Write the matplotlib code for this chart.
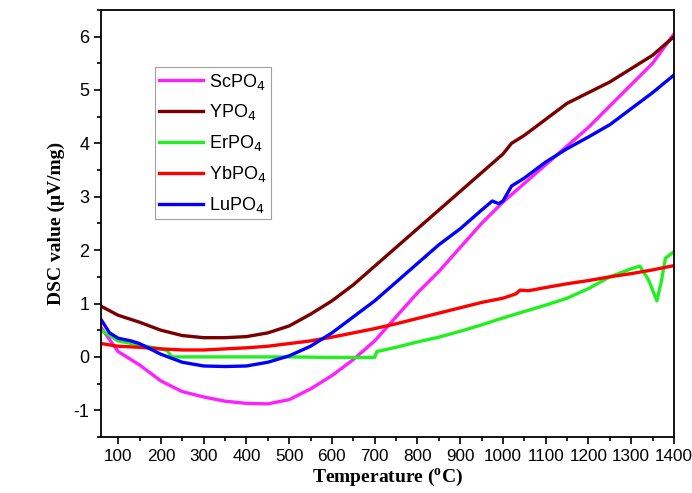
import numpy as np
import matplotlib
matplotlib.use('Agg')
from matplotlib import pyplot as plt
from matplotlib.ticker import MultipleLocator

plt.rcParams['axes.unicode_minus'] = False

# temperature grids and DSC values
t_sc = [60, 100, 150, 200, 250, 300, 350, 400, 450, 500, 550, 600, 650, 700, 750,
        800, 850, 900, 950, 1000, 1050, 1100, 1150, 1200, 1250, 1300, 1350, 1400]
sc = [0.55, 0.1, -0.15, -0.45, -0.65, -0.75, -0.83, -0.87, -0.88, -0.8, -0.6, -0.35,
      -0.05, 0.3, 0.75, 1.2, 1.6, 2.05, 2.5, 2.9, 3.25, 3.6, 3.95, 4.3, 4.7, 5.1, 5.5, 6.05]

t_y = [60, 100, 150, 200, 250, 300, 350, 400, 450, 500, 550, 600, 650, 700, 750, 800,
       850, 900, 950, 1000, 1020, 1050, 1100, 1150, 1200, 1250, 1300, 1350, 1400]
y = [0.95, 0.78, 0.65, 0.5, 0.4, 0.36, 0.36, 0.38, 0.45, 0.58, 0.8, 1.05, 1.35, 1.7,
     2.05, 2.4, 2.75, 3.1, 3.45, 3.8, 4.0, 4.15, 4.45, 4.75, 4.95, 5.15, 5.4, 5.65, 6.0]

t_er = [60, 100, 150, 200, 215, 225, 300, 400, 500, 600, 700, 705, 750, 800, 850, 900,
        950, 1000, 1050, 1100, 1150, 1200, 1250, 1300, 1320, 1340, 1360, 1370, 1380, 1400]
er = [0.5, 0.3, 0.22, 0.15, 0.12, 0.0, 0.0, 0.0, 0.0, -0.01, -0.01, 0.1, 0.18, 0.28, 0.37,
      0.48, 0.6, 0.73, 0.85, 0.97, 1.1, 1.28, 1.5, 1.65, 1.7, 1.45, 1.05, 1.4, 1.85, 1.97]

t_yb = [60, 100, 150, 200, 250, 300, 350, 400, 450, 500, 550, 600, 650, 700, 750, 800,
        850, 900, 950, 1000, 1030, 1040, 1060, 1100, 1150, 1200, 1250, 1300, 1350, 1400]
yb = [0.25, 0.2, 0.18, 0.15, 0.13, 0.13, 0.15, 0.17, 0.2, 0.25, 0.3, 0.37, 0.45, 0.53,
      0.62, 0.72, 0.82, 0.92, 1.02, 1.1, 1.18, 1.25, 1.24, 1.3, 1.37, 1.43, 1.5, 1.56,
      1.63, 1.71]

t_lu = [60, 80, 100, 130, 150, 200, 250, 300, 350, 400, 450, 500, 550, 600, 650, 700,
        750, 800, 850, 900, 950, 975, 990, 1000, 1020, 1050, 1100, 1150, 1200, 1250,
        1300, 1350, 1400]
lu = [0.7, 0.45, 0.35, 0.3, 0.25, 0.05, -0.1, -0.17, -0.18, -0.17, -0.1, 0.02, 0.2,
      0.45, 0.75, 1.05, 1.4, 1.75, 2.1, 2.4, 2.75, 2.92, 2.87, 2.92, 3.2, 3.35, 3.65,
      3.9, 4.12, 4.35, 4.65, 4.95, 5.28]

fig = plt.figure(figsize=(6.92, 4.93), dpi=100)
ax = fig.add_axes([0.146, 0.1136, 0.828, 0.8664])

ax.plot(t_sc, sc, color='#ff20ff', lw=2.4, label='ScPO$_4$')
ax.plot(t_y, y, color='#7a0000', lw=2.4, label='YPO$_4$')
ax.plot(t_er, er, color='#20f020', lw=2.4, label='ErPO$_4$')
ax.plot(t_yb, yb, color='#ff0000', lw=2.4, label='YbPO$_4$')
ax.plot(t_lu, lu, color='#0000ff', lw=2.4, label='LuPO$_4$')

ax.set_xlim(60, 1400)
ax.set_ylim(-1.5, 6.5)
ax.xaxis.set_major_locator(MultipleLocator(100))
ax.xaxis.set_minor_locator(MultipleLocator(50))
ax.yaxis.set_major_locator(MultipleLocator(1))
ax.yaxis.set_minor_locator(MultipleLocator(0.5))
ax.tick_params(which='both', direction='out', top=False, right=False, width=1.2)
ax.tick_params(axis='y', labelsize=13)
ax.tick_params(axis='x', labelsize=12.3)
ax.tick_params(which='major', length=5)
ax.tick_params(which='minor', length=3)
for lab in ax.get_xticklabels() + ax.get_yticklabels():
    lab.set_fontfamily('Liberation Sans')
for s in ax.spines.values():
    s.set_linewidth(1.3)

ax.set_xlabel('Temperature ($\\mathregular{^o}$C)', fontsize=14, fontweight='bold',
              family='Liberation Serif', labelpad=2)
ax.set_ylabel('DSC value (\u03bcV/mg)', fontsize=14, fontweight='bold',
              family='Liberation Serif', labelpad=6)

leg = ax.legend(loc='upper left', bbox_to_anchor=(0.094, 0.866), frameon=True,
                fancybox=False, edgecolor='#888888', handlelength=2.4,
                prop={'family': 'Liberation Sans', 'size': 13}, labelspacing=0.6,
                borderpad=0.25, handletextpad=0.35, borderaxespad=0)
leg.get_frame().set_linewidth(0.8)

fig.savefig('out.png', dpi=100)
